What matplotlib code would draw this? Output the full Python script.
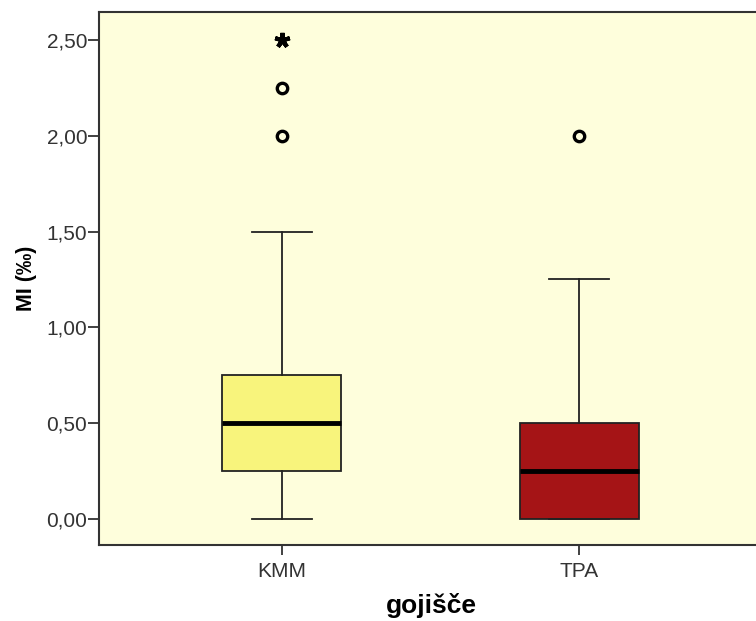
import matplotlib
matplotlib.use('Agg')
import matplotlib.pyplot as plt
from matplotlib.ticker import FuncFormatter

plt.rcParams['font.family'] = ['Liberation Sans', 'DejaVu Sans']

groups = ['KMM', 'TPA']
whislo = [0.0, 0.0]
q1 = [0.25, 0.0]
med = [0.50, 0.25]
q3 = [0.75, 0.50]
whishi = [1.50, 1.25]
circle_out = [[2.00, 2.25], [2.00]]
star_out = [[2.50], []]
box_colors = ['#f8f47c', '#a51416']
yticks = [0.0, 0.5, 1.0, 1.5, 2.0, 2.5]

stats = []
for i, g in enumerate(groups):
    stats.append(dict(label=g, whislo=whislo[i], q1=q1[i], med=med[i],
                      q3=q3[i], whishi=whishi[i], fliers=circle_out[i]))

fig = plt.figure(figsize=(7.56, 6.21), dpi=100)
ax = fig.add_axes([99 / 756, 1 - 545 / 621, 1 - 99 / 756 + 0.01, (545 - 12) / 621])
ax.set_facecolor('#fefedc')

positions = [1, 2]
bp = ax.bxp(stats, positions=positions, widths=0.40, patch_artist=True,
            showfliers=True,
            boxprops=dict(edgecolor='#222222', linewidth=1.3),
            medianprops=dict(color='black', linewidth=3.5),
            whiskerprops=dict(color='#222222', linewidth=1.3),
            capprops=dict(color='#222222', linewidth=1.3),
            capwidths=0.2,
            flierprops=dict(marker='o', markersize=7.5, markerfacecolor='none',
                            markeredgecolor='black', markeredgewidth=2.4))
for patch, c in zip(bp['boxes'], box_colors):
    patch.set_facecolor(c)
for p, vals in zip(positions, star_out):
    if vals:
        ax.plot([p] * len(vals), vals, linestyle='none', marker=(5, 2, 0),
                markersize=11, markeredgewidth=3, color='black')

ax.set_xlim(0.385, 2.62)
ax.set_ylim(-0.136, 2.646)
ax.set_yticks(yticks)
ax.yaxis.set_major_formatter(FuncFormatter(lambda v, p: f'{v:.2f}'.replace('.', ',')))
ax.tick_params(axis='both', labelsize=15, colors='#333333', width=1.3)
ax.tick_params(axis='y', length=8, pad=0.5)
ax.tick_params(axis='x', length=7, pad=5)
for s in ['left', 'bottom', 'top']:
    ax.spines[s].set_linewidth(1.5)
    ax.spines[s].set_color('#333333')
ax.spines['right'].set_visible(False)

ax.set_xlabel('gojišče', fontsize=19, fontweight='bold', labelpad=9)
ax.set_ylabel('MI (‰)', fontsize=15.5, fontweight='bold', labelpad=7)

fig.savefig('out.png', dpi=100)
